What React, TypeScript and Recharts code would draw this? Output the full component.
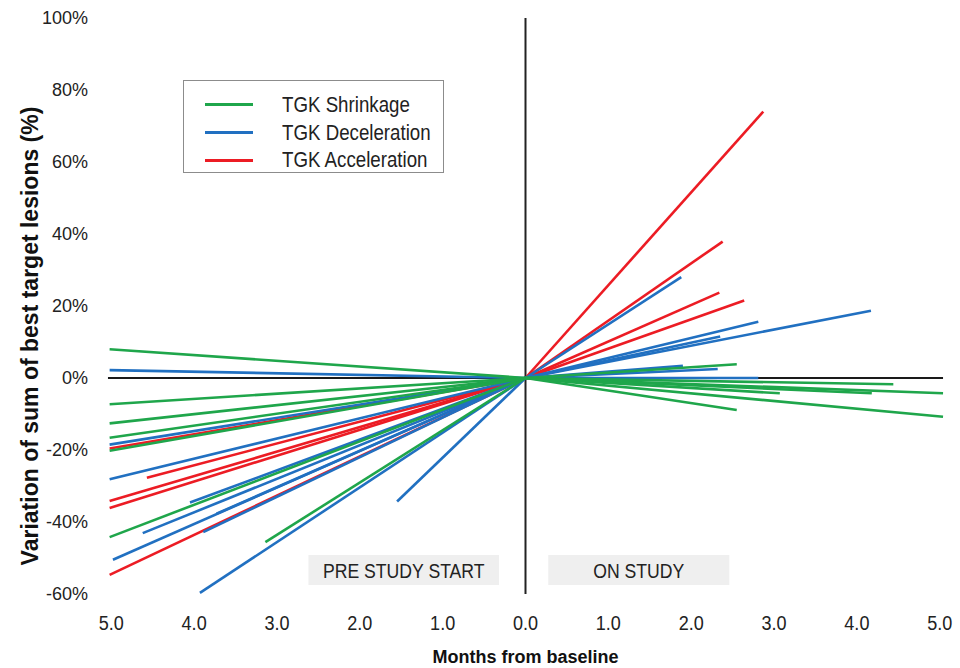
import { ComposedChart, Line, XAxis, YAxis, ReferenceLine, ReferenceArea, Legend } from "recharts";

const GREEN = "#1fa64b";
const BLUE = "#2170c1";
const RED = "#ec1c24";
const SANS = '"Liberation Sans", Arial, sans-serif';

const xTicks = [-5, -4, -3, -2, -1, 0, 1, 2, 3, 4, 5];
const yTicks = [-60, -40, -20, 0, 20, 40, 60, 80, 100];

// m = months from baseline (negative = before study start), v = % change
const origin = { m: 0, v: 0 };

const shrinkPre = [
  { m: -5.02, v: 8.0 },
  { m: -5.02, v: -7.3 },
  { m: -5.02, v: -12.6 },
  { m: -5.02, v: -16.6 },
  { m: -5.02, v: -20.2 },
  { m: -5.02, v: -44.2 },
  { m: -3.14, v: -45.6 },
];
const decelPre = [
  { m: -5.02, v: 2.2 },
  { m: -5.02, v: -18.5 },
  { m: -5.02, v: -28.1 },
  { m: -4.05, v: -34.6 },
  { m: -4.62, v: -43.1 },
  { m: -4.98, v: -50.5 },
  { m: -3.93, v: -59.7 },
  { m: -1.55, v: -34.3 },
  { m: -3.73, v: -37.7 },
  { m: -3.89, v: -42.8 },
];
const accelPre = [
  { m: -5.02, v: -19.6 },
  { m: -4.57, v: -27.7 },
  { m: -5.02, v: -34.2 },
  { m: -5.02, v: -36.1 },
  { m: -5.02, v: -54.7 },
];

const shrinkOn = [
  { m: 2.55, v: 3.8 },
  { m: 4.44, v: -1.75 },
  { m: 5.04, v: -4.25 },
  { m: 4.18, v: -4.25 },
  { m: 3.07, v: -4.25 },
  { m: 5.04, v: -10.75 },
  { m: 2.55, v: -8.9 },
];
const decelOn = [
  { m: 1.88, v: 28.0 },
  { m: 4.17, v: 18.7 },
  { m: 2.81, v: 15.6 },
  { m: 2.35, v: 11.5 },
  { m: 1.9, v: 3.4 },
  { m: 2.32, v: 2.5 },
  { m: 2.81, v: 0 },
];
const accelOn = [
  { m: 2.87, v: 74.0 },
  { m: 2.38, v: 37.9 },
  { m: 2.34, v: 23.7 },
  { m: 2.64, v: 21.5 },
];

const legendItems = [
  { label: "TGK Shrinkage", color: GREEN },
  { label: "TGK Deceleration", color: BLUE },
  { label: "TGK Acceleration", color: RED },
];

type Pt = { m: number; v: number };

function segments(points: Pt[], color: string, prefix: string) {
  return points.map((p, i) => (
    <Line
      key={`${prefix}-${i}`}
      name={`${prefix}-${i}`}
      data={[origin, p]}
      dataKey="v"
      type="linear"
      stroke={color}
      strokeWidth={2.6}
      dot={false}
      activeDot={false}
      legendType="none"
      isAnimationActive={false}
    />
  ));
}

// narrow look (like Arial Narrow) by squeezing Liberation Sans horizontally
function XTick(props: any) {
  const { x, y, payload } = props;
  return (
    <text
      transform={`translate(${x},${y}) scale(0.86,1)`}
      textAnchor="middle"
      dy="0.71em"
      fontSize={21}
      fontFamily={SANS}
      fill="#222"
    >
      {Math.abs(payload.value).toFixed(1)}
    </text>
  );
}

function boxLabel(text: string) {
  return (props: any) => {
    const { x, y, width, height } = props.viewBox;
    return (
      <text
        transform={`translate(${x + width / 2},${y + height / 2}) scale(0.84,1)`}
        textAnchor="middle"
        dy="0.36em"
        fontSize={21}
        fontFamily={SANS}
        fill="#222"
      >
        {text}
      </text>
    );
  };
}

function LegendBox() {
  return (
    <div
      style={{
        boxSizing: "border-box",
        width: 261,
        height: 93,
        border: "1.5px solid #8c8c8c",
        background: "#fff",
        paddingTop: 10,
        fontFamily: SANS,
        fontSize: 22,
        color: "#222",
        whiteSpace: "nowrap",
        overflow: "visible",
      }}
    >
      {legendItems.map((it) => (
        <div key={it.label} style={{ display: "flex", alignItems: "center", height: 27.7 }}>
          <span
            style={{ display: "inline-block", flexShrink: 0, marginLeft: 21, width: 48, height: 3, background: it.color }}
          />
          <span
            style={{
              display: "inline-block",
              flexShrink: 0,
              marginLeft: 29,
              lineHeight: "22px",
              transform: "scaleX(0.85)",
              transformOrigin: "left center",
            }}
          >
            {it.label}
          </span>
        </div>
      ))}
    </div>
  );
}

export default function App() {
  return (
    <div style={{ position: "fixed", left: 0, top: 0, width: 960, height: 668, background: "#fff" }}>
      <ComposedChart width={960} height={668} margin={{ top: 18, right: 12, bottom: 0, left: 0 }}>
        <XAxis
          type="number"
          dataKey="m"
          domain={[-5.1, 5.1]}
          ticks={xTicks}
          allowDataOverflow
          axisLine={false}
          tickLine={false}
          tickSize={0}
          tickMargin={21}
          height={74}
          tick={<XTick />}
          label={{
            value: "Months from baseline",
            position: "insideBottom",
            offset: 5,
            style: { fontSize: 18, fontWeight: "bold", fontFamily: SANS, fill: "#111" },
          }}
        />
        <YAxis
          type="number"
          domain={[-60, 100]}
          ticks={yTicks}
          width={103}
          axisLine={false}
          tickLine={false}
          tickSize={0}
          tickMargin={15}
          tickFormatter={(v: number) => `${v}%`}
          tick={{ fontSize: 18, fontFamily: SANS, fill: "#222" }}
          label={{
            value: "Variation of sum of best target lesions (%)",
            angle: -90,
            position: "insideLeft",
            offset: 30,
            dy: 30,
            style: { textAnchor: "middle", fontSize: 23, fontWeight: "bold", fontFamily: SANS, fill: "#111" },
          }}
        />
        <ReferenceArea x1={-2.62} x2={-0.32} y1={-57.5} y2={-49.2} fill="#efefef" fillOpacity={1} stroke="none"
          label={boxLabel("PRE STUDY START")} />
        <ReferenceArea x1={0.275} x2={2.46} y1={-57.5} y2={-49.2} fill="#efefef" fillOpacity={1} stroke="none"
          label={boxLabel("ON STUDY")} />
        <ReferenceLine x={0} stroke="#222" strokeWidth={2} />
        <ReferenceLine segment={[{ x: -5.04, y: 0 }, { x: 5.04, y: 0 }]} stroke="#1a1a1a" strokeWidth={2} ifOverflow="visible" />
        {segments(accelPre, RED, "accel-pre")}
        {segments(accelOn, RED, "accel-on")}
        {segments(decelPre, BLUE, "decel-pre")}
        {segments(decelOn, BLUE, "decel-on")}
        {segments(shrinkPre, GREEN, "shrink-pre")}
        {segments(shrinkOn, GREEN, "shrink-on")}
        <Legend
          layout="vertical"
          align="center"
          verticalAlign="middle"
          content={() => <LegendBox />}
          wrapperStyle={{ position: "absolute", left: 183, top: 80, width: 261, height: 93 }}
        />
      </ComposedChart>
    </div>
  );
}
